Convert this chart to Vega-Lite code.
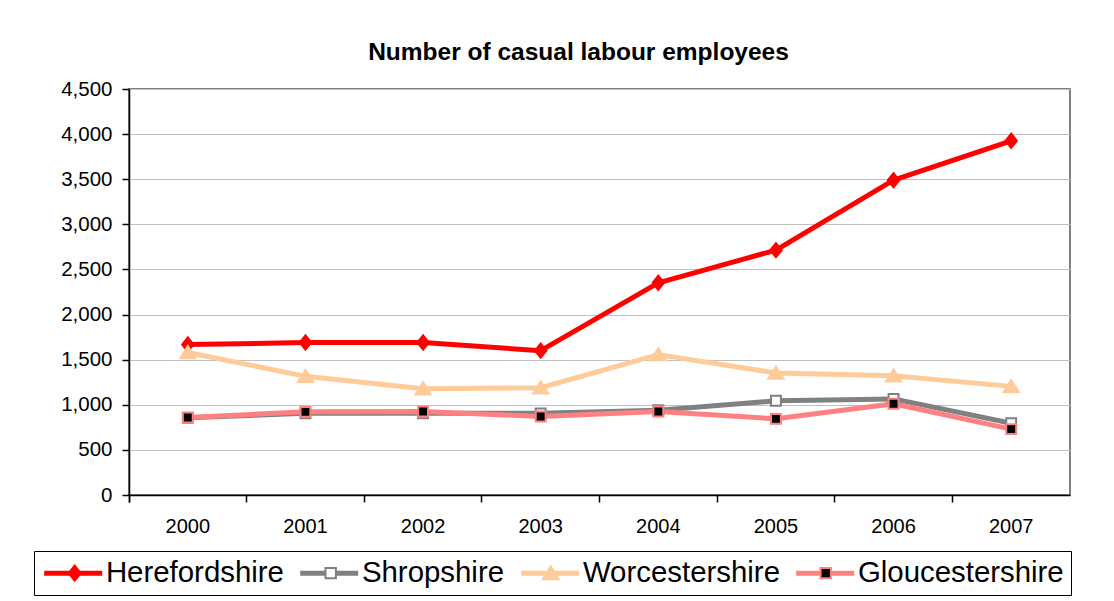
{
  "$schema": "https://vega.github.io/schema/vega-lite/v6.json",
  "autosize": "none",
  "width": 941,
  "height": 406,
  "padding": {"left": 129, "top": 89, "right": 44, "bottom": 106},
  "background": "white",
  "title": {
    "text": "Number of casual labour employees",
    "font": "Liberation Sans",
    "fontSize": 24.5,
    "fontWeight": "bold",
    "color": "black",
    "anchor": "middle",
    "frame": "group",
    "dx": -21,
    "baseline": "bottom",
    "offset": -10
  },
  "data": {
    "values": [
      {"county": "Herefordshire", "year": "2000", "employees": 1667},
      {"county": "Herefordshire", "year": "2001", "employees": 1690},
      {"county": "Herefordshire", "year": "2002", "employees": 1690},
      {"county": "Herefordshire", "year": "2003", "employees": 1600},
      {"county": "Herefordshire", "year": "2004", "employees": 2352},
      {"county": "Herefordshire", "year": "2005", "employees": 2714},
      {"county": "Herefordshire", "year": "2006", "employees": 3489},
      {"county": "Herefordshire", "year": "2007", "employees": 3926},
      {"county": "Shropshire", "year": "2000", "employees": 855},
      {"county": "Shropshire", "year": "2001", "employees": 905},
      {"county": "Shropshire", "year": "2002", "employees": 905},
      {"county": "Shropshire", "year": "2003", "employees": 905},
      {"county": "Shropshire", "year": "2004", "employees": 940},
      {"county": "Shropshire", "year": "2005", "employees": 1044},
      {"county": "Shropshire", "year": "2006", "employees": 1065},
      {"county": "Shropshire", "year": "2007", "employees": 795},
      {"county": "Worcestershire", "year": "2000", "employees": 1580},
      {"county": "Worcestershire", "year": "2001", "employees": 1315},
      {"county": "Worcestershire", "year": "2002", "employees": 1178},
      {"county": "Worcestershire", "year": "2003", "employees": 1189},
      {"county": "Worcestershire", "year": "2004", "employees": 1556},
      {"county": "Worcestershire", "year": "2005", "employees": 1352},
      {"county": "Worcestershire", "year": "2006", "employees": 1322},
      {"county": "Worcestershire", "year": "2007", "employees": 1204},
      {"county": "Gloucestershire", "year": "2000", "employees": 859},
      {"county": "Gloucestershire", "year": "2001", "employees": 922},
      {"county": "Gloucestershire", "year": "2002", "employees": 926},
      {"county": "Gloucestershire", "year": "2003", "employees": 870},
      {"county": "Gloucestershire", "year": "2004", "employees": 926},
      {"county": "Gloucestershire", "year": "2005", "employees": 844},
      {"county": "Gloucestershire", "year": "2006", "employees": 1011},
      {"county": "Gloucestershire", "year": "2007", "employees": 730}
    ]
  },
  "encoding": {
    "x": {
      "field": "year",
      "type": "ordinal",
      "bandPosition": 0.5,
      "scale": {"type": "band", "paddingInner": 0, "paddingOuter": 0},
      "axis": {
        "title": null,
        "labelAngle": 0,
        "bandPosition": 0,
        "tickExtra": true,
        "grid": false,
        "tickSize": 7,
        "labelPadding": 14
      }
    },
    "y": {
      "field": "employees",
      "type": "quantitative",
      "scale": {"domain": [0, 4500], "nice": false},
      "axis": {
        "title": null,
        "values": [0, 500, 1000, 1500, 2000, 2500, 3000, 3500, 4000, 4500],
        "format": ",.0f",
        "tickSize": 7,
        "labelPadding": 10,
        "labelFontSize": 20.5,
        "grid": true
      }
    }
  },
  "layer": [
    {
      "mark": {"type": "line", "strokeWidth": 5, "strokeJoin": "round"},
      "encoding": {
        "color": {
          "field": "county",
          "type": "nominal",
          "sort": ["Herefordshire", "Shropshire", "Worcestershire", "Gloucestershire"],
          "scale": {"range": ["#ff0000", "#808080", "#ffcc99", "#ff8080"]},
          "legend": {
            "orient": "none",
            "legendX": -95,
            "legendY": 462,
            "direction": "horizontal",
            "columns": 4,
            "title": null,
            "symbolType": "M-2.9,0H2.9",
            "symbolSize": 400,
            "symbolStrokeWidth": 5,
            "symbolOffset": 17.5,
            "labelFont": "Liberation Sans",
            "labelFontSize": 29.4,
            "labelColor": "black",
            "labelLimit": 400,
            "labelOffset": 18,
            "columnPadding": 6,
            "padding": 7,
            "strokeColor": "black",
            "fillColor": "white"
          }
        }
      }
    },
    {
      "mark": {"type": "point", "filled": true, "size": 361, "strokeWidth": 2, "opacity": 1},
      "encoding": {
        "shape": {
          "field": "county",
          "type": "nominal",
          "scale": {
            "domain": ["Herefordshire", "Shropshire", "Worcestershire", "Gloucestershire"],
            "range": [
              "M-0.6,0L0,-0.75L0.6,0L0,0.75Z",
              "M-0.52,-0.52H0.52V0.52H-0.52Z",
              "M0,-0.68L0.8,0.6L-0.8,0.6Z",
              "M-0.52,-0.52H0.52V0.52H-0.52Z"
            ]
          },
          "legend": {
            "orient": "none",
            "legendX": -95,
            "legendY": 462,
            "direction": "horizontal",
            "columns": 4,
            "title": null,
            "symbolSize": 400,
            "symbolStrokeWidth": 2,
            "symbolOffset": 19,
            "labelFont": "Liberation Sans",
            "labelFontSize": 29.4,
            "labelColor": "rgba(0,0,0,0)",
            "labelLimit": 400,
            "labelOffset": 23.2,
            "columnPadding": 6,
            "padding": 7
          }
        },
        "fill": {
          "field": "county",
          "type": "nominal",
          "scale": {
            "domain": ["Herefordshire", "Shropshire", "Worcestershire", "Gloucestershire"],
            "range": ["#ff0000", "#ffffff", "#ffcc99", "#000000"]
          },
          "legend": {
            "orient": "none",
            "legendX": -95,
            "legendY": 462,
            "direction": "horizontal",
            "columns": 4,
            "title": null,
            "symbolSize": 400,
            "symbolStrokeWidth": 2,
            "symbolOffset": 19,
            "labelFont": "Liberation Sans",
            "labelFontSize": 29.4,
            "labelColor": "rgba(0,0,0,0)",
            "labelLimit": 400,
            "labelOffset": 23.2,
            "columnPadding": 6,
            "padding": 7
          }
        },
        "stroke": {
          "field": "county",
          "type": "nominal",
          "scale": {
            "domain": ["Herefordshire", "Shropshire", "Worcestershire", "Gloucestershire"],
            "range": ["#ff0000", "#808080", "#ffcc99", "#ff8080"]
          },
          "legend": {
            "orient": "none",
            "legendX": -95,
            "legendY": 462,
            "direction": "horizontal",
            "columns": 4,
            "title": null,
            "symbolSize": 400,
            "symbolStrokeWidth": 2,
            "symbolOffset": 19,
            "labelFont": "Liberation Sans",
            "labelFontSize": 29.4,
            "labelColor": "rgba(0,0,0,0)",
            "labelLimit": 400,
            "labelOffset": 23.2,
            "columnPadding": 6,
            "padding": 7
          }
        }
      }
    }
  ],
  "config": {
    "view": {"stroke": "#808080", "strokeWidth": 2},
    "axis": {
      "labelFont": "Liberation Sans",
      "labelFontSize": 20,
      "labelColor": "black",
      "domainColor": "black",
      "domainWidth": 1.5,
      "tickColor": "black",
      "tickWidth": 1.5,
      "gridColor": "#c0c0c0",
      "gridWidth": 1
    }
  }
}
